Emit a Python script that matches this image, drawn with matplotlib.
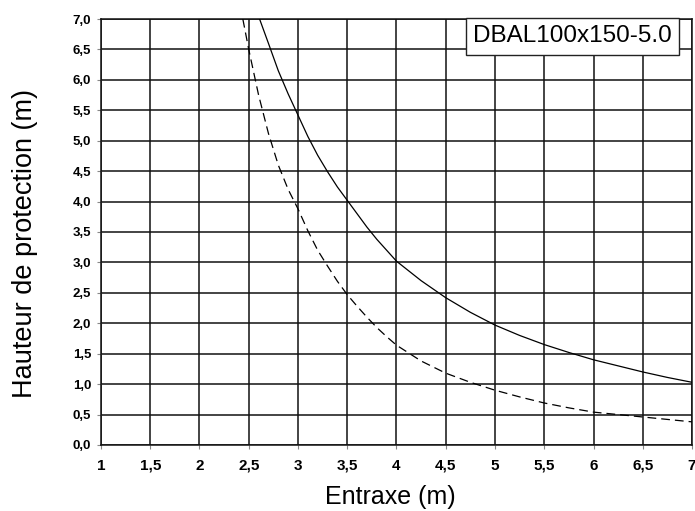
import matplotlib.pyplot as plt
import numpy as np

# valeurs
entraxe_plein = [2.61, 2.7, 2.8, 2.9, 3.0, 3.1, 3.2, 3.3, 3.4, 3.5, 3.6, 3.7, 3.8, 3.9, 4.0,
	4.25, 4.5, 4.75, 5.0, 5.25, 5.5, 5.75, 6.0, 6.25, 6.5, 6.75, 7.0]
hauteur_plein = [7.0, 6.6, 6.15, 5.77, 5.42, 5.07, 4.76, 4.49, 4.24, 4.02, 3.8, 3.58, 3.38, 3.2, 3.02,
	2.70, 2.42, 2.18, 1.97, 1.80, 1.65, 1.52, 1.40, 1.30, 1.20, 1.11, 1.03]

entraxe_tirets = [2.44, 2.5, 2.6, 2.7, 2.8, 2.9, 3.0, 3.1, 3.2, 3.3, 3.4, 3.5, 3.6, 3.7, 3.8, 3.9, 4.0,
	4.25, 4.5, 4.75, 5.0, 5.25, 5.5, 5.75, 6.0, 6.25, 6.5, 6.75, 7.0]
hauteur_tirets = [7.0, 6.5, 5.75, 5.12, 4.6, 4.2, 3.88, 3.52, 3.2, 2.94, 2.69, 2.47, 2.28, 2.1, 1.93, 1.78, 1.64,
	1.38, 1.18, 1.03, 0.90, 0.79, 0.69, 0.61, 0.54, 0.50, 0.46, 0.42, 0.38]

xticks = np.arange(1, 7.01, 0.5)
yticks = np.arange(0, 7.01, 0.5)
label_boite = "DBAL100x150-5.0"

plt.rcParams['font.family'] = ['Liberation Sans', 'DejaVu Sans']

fig = plt.figure(figsize=(6.95, 5.11), dpi=100)
ax = fig.add_axes([0.1453, 0.1292, 0.8504, 0.8336])

ax.plot(entraxe_plein, hauteur_plein, color="black", lw=0.9, zorder=3)
ax.plot(entraxe_tirets, hauteur_tirets, color="black", lw=0.9, dashes=(7, 4), zorder=3)

ax.set_xlim(1, 7)
ax.set_ylim(0, 7)
ax.set_xticks(xticks)
ax.set_yticks(yticks)
ax.set_xticklabels([("%g" % v).replace(".", ",") for v in xticks], fontsize=11, fontweight="bold")
ax.set_yticklabels([("%.1f" % v).replace(".", ",") for v in yticks], fontsize=9.5, fontweight="bold")
ax.grid(True, color="#111111", lw=1.1)
ax.set_axisbelow(True)
for s in ax.spines.values():
	s.set_color("#111111")
	s.set_linewidth(1.1)
ax.tick_params(axis="both", length=3, width=0.8, color="#888888", pad=4)
ax.tick_params(axis="x", pad=7)

ax.set_xlabel("Entraxe (m)", fontsize=18, va="center")
ax.set_ylabel("Hauteur de protection (m)", fontsize=19.5, va="center")
ax.xaxis.set_label_coords(0.489, -0.122)
ax.yaxis.set_label_coords(-0.128, 0.472)

ax.text(0.966, 0.985, label_boite, transform=ax.transAxes, ha="right", va="top",
	fontsize=17.5, zorder=5,
	bbox=dict(boxstyle="square,pad=0.3", facecolor="white", edgecolor="#222222", lw=1.0))

fig.savefig("out.png", dpi=100)
